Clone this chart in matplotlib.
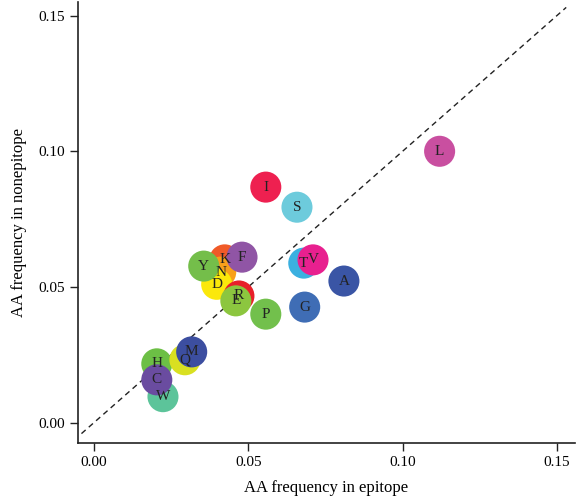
import matplotlib
matplotlib.use("Agg")
import matplotlib.pyplot as plt

# amino acid frequencies
aa = ["L", "I", "S", "T", "V", "A", "G", "P", "K", "N", "D", "R", "E", "F", "Y",
      "W", "H", "C", "Q", "M"]
epitope = [0.112, 0.0557, 0.0658, 0.068, 0.071, 0.081, 0.0683, 0.0557, 0.0424, 0.0411,
           0.0398, 0.047, 0.046, 0.048, 0.0356, 0.0224, 0.0204, 0.0204, 0.0295, 0.0317]
nonepitope = [0.100, 0.0868, 0.0794, 0.0588, 0.060, 0.0522, 0.0426, 0.040, 0.060, 0.0555,
              0.051, 0.0467, 0.0449, 0.061, 0.0577, 0.0096, 0.0217, 0.0158, 0.0232, 0.0261]
colors = ["#c94fa0", "#ee2050", "#6dcbdc", "#3bb0e0", "#e8208f", "#3a55a5", "#3f6db5",
          "#72c04c", "#f05a28", "#f8a01a", "#fbe80b", "#e8202a", "#8cc63f", "#9055a5",
          "#74be4a", "#5cc49a", "#6cbf45", "#6a4ca0", "#d9e021", "#3c4ea0"]
ticks = [0.00, 0.05, 0.10, 0.15]

plt.rcParams["font.family"] = ["Liberation Serif", "DejaVu Serif"]

fig = plt.figure(figsize=(5.76, 4.97), dpi=100)
ax = fig.add_axes([0.135, 0.109, 0.863, 0.887])

ax.plot([-0.004, 0.153], [-0.004, 0.153], ls=(0, (4, 3)), color="#222222", lw=1.0, zorder=1)

for x, y, c in zip(epitope, nonepitope, colors):
    ax.scatter(x, y, s=500, color=c, edgecolors="none", zorder=2)
for x, y, name in zip(epitope, nonepitope, aa):
    ax.text(x, y, name, ha="center", va="center", fontsize=11, color="#222222", zorder=3)

ax.set_xlim(-0.0052, 0.1558)
ax.set_ylim(-0.0074, 0.155)
ax.set_xticks(ticks)
ax.set_yticks(ticks)
ax.set_xticklabels([f"{t:.2f}" for t in ticks])
ax.set_yticklabels([f"{t:.2f}" for t in ticks])
ax.tick_params(direction="out", length=6, width=1, labelsize=11, color="#222222")
ax.spines["top"].set_visible(False)
ax.spines["right"].set_visible(False)
for s in ["left", "bottom"]:
    ax.spines[s].set_linewidth(1.2)
    ax.spines[s].set_color("#222222")

ax.set_xlabel("AA frequency in epitope", fontsize=12, labelpad=8)
ax.set_ylabel("AA frequency in nonepitope", fontsize=12, labelpad=8)

fig.savefig("out.png", dpi=100)
